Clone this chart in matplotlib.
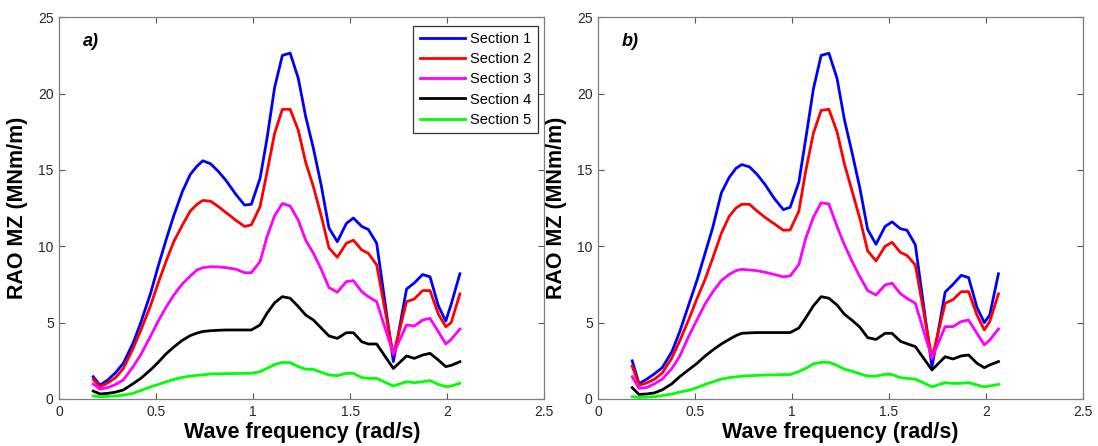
import matplotlib
matplotlib.use("Agg")
import matplotlib.pyplot as plt

# wave frequency grid (rad/s)
freq = [0.175, 0.21, 0.25, 0.29, 0.33, 0.38, 0.42, 0.47, 0.51, 0.55, 0.59, 0.635,
        0.675, 0.71, 0.74, 0.78, 0.82, 0.86, 0.91, 0.955, 0.99, 1.035, 1.07, 1.11,
        1.15, 1.19, 1.232, 1.27, 1.31, 1.35, 1.39, 1.433, 1.48, 1.516, 1.559, 1.593,
        1.636, 1.722, 1.79, 1.83, 1.873, 1.911, 1.954, 1.992, 2.02, 2.065]

# panel a)
a_sec1 = [1.46, 0.9, 1.25, 1.72, 2.34, 3.65, 5.0, 6.9, 8.7, 10.4, 12.0, 13.6,
          14.7, 15.25, 15.6, 15.4, 14.9, 14.3, 13.4, 12.7, 12.75, 14.45, 17.0, 20.4,
          22.5, 22.65, 21.0, 18.5, 16.4, 14.0, 11.2, 10.3, 11.5, 11.85, 11.3, 11.1,
          10.2, 2.45, 7.2, 7.6, 8.15, 8.0, 6.1, 5.1, 6.2, 8.2]
a_sec2 = [1.29, 0.8, 1.05, 1.4, 2.0, 3.3, 4.5, 6.1, 7.6, 9.0, 10.3, 11.4,
          12.3, 12.75, 13.0, 12.95, 12.6, 12.2, 11.7, 11.3, 11.4, 12.6, 14.8, 17.4,
          18.97, 18.97, 17.6, 15.5, 13.9, 12.0, 9.9, 9.28, 10.2, 10.4, 9.76, 9.54,
          8.78, 2.88, 6.37, 6.55, 7.1, 7.1, 5.56, 4.73, 5.0, 6.88]
a_sec3 = [0.98, 0.64, 0.75, 0.95, 1.25, 2.1, 2.9, 4.1, 5.1, 6.0, 6.8, 7.55,
          8.05, 8.45, 8.6, 8.66, 8.65, 8.6, 8.5, 8.27, 8.27, 9.0, 10.6, 12.0,
          12.8, 12.64, 11.7, 10.4, 9.54, 8.5, 7.3, 6.99, 7.69, 7.75, 7.03, 6.7,
          6.37, 2.95, 4.85, 4.78, 5.17, 5.28, 4.41, 3.6, 3.9, 4.58]
a_sec4 = [0.52, 0.33, 0.37, 0.45, 0.59, 1.0, 1.35, 1.9, 2.4, 2.95, 3.4, 3.85,
          4.15, 4.32, 4.42, 4.47, 4.5, 4.52, 4.52, 4.52, 4.52, 4.85, 5.6, 6.3,
          6.7, 6.6, 6.05, 5.5, 5.17, 4.65, 4.13, 3.97, 4.34, 4.34, 3.75, 3.6,
          3.6, 2.0, 2.82, 2.66, 2.88, 2.99, 2.55, 2.12, 2.2, 2.44]
a_sec5 = [0.2, 0.15, 0.17, 0.2, 0.25, 0.37, 0.55, 0.8, 0.95, 1.12, 1.28, 1.42,
          1.5, 1.55, 1.58, 1.64, 1.65, 1.66, 1.67, 1.68, 1.68, 1.79, 2.0, 2.25,
          2.4, 2.38, 2.12, 1.95, 1.94, 1.75, 1.57, 1.53, 1.68, 1.68, 1.4, 1.35,
          1.35, 0.85, 1.13, 1.07, 1.13, 1.2, 0.96, 0.81, 0.85, 1.03]

# panel b)
b_sec1 = [2.5, 1.0, 1.3, 1.65, 2.05, 3.1, 4.4, 6.3, 7.8, 9.5, 11.2, 13.5,
          14.5, 15.1, 15.35, 15.2, 14.7, 14.05, 13.1, 12.4, 12.55, 14.2, 17.0, 20.3,
          22.5, 22.64, 21.0, 18.3, 16.1, 13.8, 11.1, 10.13, 11.3, 11.6, 11.15, 11.05,
          10.1, 2.1, 7.0, 7.5, 8.1, 7.95, 6.0, 5.0, 5.5, 8.2]
b_sec2 = [2.16, 0.9, 1.05, 1.3, 1.7, 2.7, 3.8, 5.3, 6.6, 7.8, 9.2, 10.85,
          11.95, 12.5, 12.75, 12.75, 12.3, 11.9, 11.45, 11.05, 11.07, 12.3, 14.9, 17.4,
          18.9, 18.97, 17.5, 15.4, 13.6, 11.8, 9.7, 9.04, 10.0, 10.26, 9.6, 9.4,
          8.78, 2.66, 6.27, 6.5, 7.03, 7.03, 5.5, 4.52, 5.07, 6.88]
b_sec3 = [1.46, 0.7, 0.75, 1.0, 1.3, 2.0, 2.8, 4.2, 5.2, 6.2, 7.0, 7.75,
          8.15, 8.4, 8.49, 8.45, 8.4, 8.3, 8.15, 8.0, 8.06, 8.8, 10.5, 11.9,
          12.85, 12.77, 11.3, 10.1, 9.0, 8.0, 7.1, 6.81, 7.47, 7.58, 6.9, 6.59,
          6.27, 2.66, 4.74, 4.74, 5.07, 5.17, 4.3, 3.54, 3.86, 4.58]
b_sec4 = [0.74, 0.3, 0.33, 0.4, 0.6, 1.0, 1.46, 1.95, 2.34, 2.8, 3.2, 3.6,
          3.9, 4.15, 4.3, 4.33, 4.35, 4.35, 4.35, 4.35, 4.35, 4.65, 5.3, 6.1,
          6.7, 6.6, 6.15, 5.55, 5.15, 4.7, 4.02, 3.9, 4.3, 4.3, 3.78, 3.62,
          3.43, 1.9, 2.77, 2.62, 2.82, 2.88, 2.34, 2.05, 2.23, 2.45]
b_sec5 = [0.15, 0.1, 0.12, 0.15, 0.22, 0.33, 0.45, 0.58, 0.75, 0.95, 1.12, 1.3,
          1.4, 1.45, 1.5, 1.52, 1.55, 1.57, 1.58, 1.6, 1.6, 1.8, 2.0, 2.3,
          2.4, 2.4, 2.2, 1.95, 1.82, 1.65, 1.5, 1.5, 1.62, 1.6, 1.4, 1.35,
          1.3, 0.8, 1.07, 1.02, 1.03, 1.07, 0.92, 0.8, 0.85, 0.96]

labels = ["Section 1", "Section 2", "Section 3", "Section 4", "Section 5"]
colors = ["#0000ff", "#ff0000", "#ff00ff", "#000000", "#00ff00"]

plt.rcParams["font.family"] = ["Liberation Sans", "DejaVu Sans"]


def draw_panel(ax, series, tag, legend=False):
    for y, lab, c in zip(series, labels, colors):
        ax.plot(freq, y, color=c, lw=2.0, label=lab)
    ax.set_xlim(0, 2.5)
    ax.set_ylim(0, 25)
    ax.set_xticks([0, 0.5, 1, 1.5, 2, 2.5])
    ax.set_xticklabels(["0", "0.5", "1", "1.5", "2", "2.5"])
    ax.set_yticks([0, 5, 10, 15, 20, 25])
    ax.tick_params(direction="in", top=True, right=True, length=4, width=0.8,
                   color="#555555", labelsize=10, labelcolor="#262626", pad=4)
    for s in ax.spines.values():
        s.set_color("#7f7f7f")
        s.set_linewidth(0.9)
    ax.set_xlabel("Wave frequency (rad/s)", fontsize=15.5, fontweight="bold",
                  va="center")
    ax.xaxis.set_label_coords(0.5, -0.089)
    ax.set_ylabel("RAO MZ (MNm/m)", fontsize=15.5, fontweight="bold", va="center")
    ax.yaxis.set_label_coords(-0.086, 0.5)
    ax.text(0.12, 23.4, tag, fontsize=13, fontweight="bold", fontstyle="italic",
            va="center", ha="left")
    if legend:
        leg = ax.legend(loc="upper right", bbox_to_anchor=(0.987, 0.978),
                        borderaxespad=0, fontsize=10.5, fancybox=False,
                        handlelength=3.1, handletextpad=0.35, labelspacing=0.42,
                        borderpad=0.45, framealpha=1)
        leg.get_frame().set_edgecolor("#333333")
        leg.get_frame().set_linewidth(0.9)


fig = plt.figure(figsize=(10.98, 4.46), dpi=100)
ax1 = fig.add_axes([0.054, 0.1054, 0.4417, 0.856])
ax2 = fig.add_axes([0.5449, 0.1054, 0.4412, 0.856])

draw_panel(ax1, [a_sec1, a_sec2, a_sec3, a_sec4, a_sec5], "a)", legend=True)
draw_panel(ax2, [b_sec1, b_sec2, b_sec3, b_sec4, b_sec5], "b)")

fig.savefig("out.png", dpi=100)
